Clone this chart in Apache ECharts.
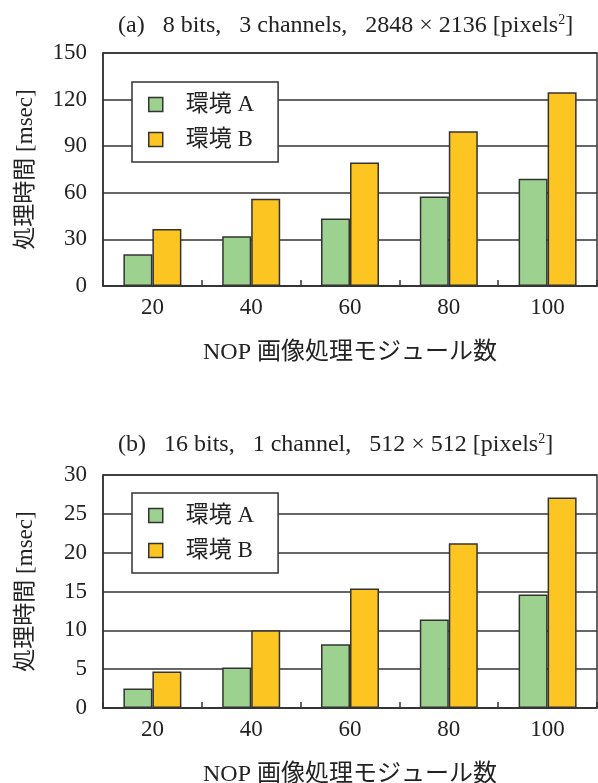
<!DOCTYPE html>
<html>
<head>
<meta charset="utf-8">
<script src="https://cdn.jsdelivr.net/npm/echarts@6/dist/echarts.min.js"></script>
<style>
    html, body { margin: 0; padding: 0; background: #fff; }
    #chart { width: 598px; height: 783px; }
</style>
</head>
<body>
<div id="chart"></div>
<script>
const categories = ['20', '40', '60', '80', '100'];
const seriesNames = ['環境 A', '環境 B'];
// (a) 8 bits, 3 channels
const timeA_top = [20.4, 32.1, 43.5, 57.6, 69.0];
const timeB_top = [36.7, 56.2, 79.5, 99.6, 124.8];
// (b) 16 bits, 1 channel
const timeA_bottom = [2.5, 5.2, 8.2, 11.4, 14.6];
const timeB_bottom = [4.7, 10.0, 15.4, 21.2, 27.1];

const colorList = ['#9dd18f', '#fdc521'];
const fontFamily = "'Liberation Serif', 'Noto Sans CJK JP', serif";
const lineColor = '#333';
const textColor = '#222';

const makeTitle = (text, top) => ({
    text: text,
    left: 118,
    top: top,
    padding: 0,
    textStyle: {
        fontFamily: fontFamily,
        fontSize: 24,
        fontWeight: 'normal',
        color: textColor,
        rich: {
            sup: { fontFamily: fontFamily, fontSize: 14, verticalAlign: 'top', padding: [0, 0, 11, 0], color: textColor }
        }
    }
});

const makeLegend = (top) => ({
    orient: 'vertical',
    left: 132,
    top: top,
    data: seriesNames,
    icon: 'rect',
    itemWidth: 14,
    itemHeight: 14,
    itemGap: 12,
    padding: [11, 24, 11, 16],
    backgroundColor: '#fff',
    borderColor: lineColor,
    borderWidth: 1.5,
    itemStyle: { borderColor: lineColor, borderWidth: 1.5 },
    textStyle: { fontFamily: fontFamily, fontSize: 23, lineHeight: 23, color: textColor, padding: [0, 0, 0, 18] }
});

const makeXAxis = (gridIndex) => ({
    type: 'category',
    gridIndex: gridIndex,
    data: categories,
    name: 'NOP 画像処理モジュール数',
    nameLocation: 'middle',
    nameGap: 55,
    nameTextStyle: { fontFamily: fontFamily, fontSize: 24, color: textColor },
    axisLine: { lineStyle: { color: lineColor, width: 1.5 } },
    axisTick: { show: true, inside: true, alignWithLabel: false, length: 6, lineStyle: { color: lineColor, width: 1.5 } },
    axisLabel: { fontFamily: fontFamily, fontSize: 23, color: textColor, margin: 10 }
});

const makeYAxis = (gridIndex, max, interval) => ({
    type: 'value',
    gridIndex: gridIndex,
    min: 0,
    max: max,
    interval: interval,
    name: '処理時間 [msec]',
    nameLocation: 'middle',
    nameGap: 66,
    nameTextStyle: { fontFamily: fontFamily, fontSize: 23, color: textColor },
    axisLine: { show: true, lineStyle: { color: lineColor, width: 1.5 } },
    axisTick: { show: false },
    axisLabel: { fontFamily: fontFamily, fontSize: 23, color: textColor, margin: 16 },
    splitLine: { show: true, lineStyle: { color: lineColor, width: 1.5 } }
});

const makeBar = (name, data, idx, axisIndex) => ({
    name: name,
    type: 'bar',
    xAxisIndex: axisIndex,
    yAxisIndex: axisIndex,
    data: data,
    barWidth: 29,
    barGap: '0%',
    itemStyle: { color: colorList[idx], borderColor: lineColor, borderWidth: 1.5 }
});

const myChart = echarts.init(document.getElementById('chart'), null, { renderer: 'canvas' });
const option = {
    animation: false,
    color: colorList,
    title: [
        makeTitle('(a)   8 bits,   3 channels,   2848 × 2136 [pixels{sup|2}]', 13),
        makeTitle('(b)   16 bits,   1 channel,   512 × 512 [pixels{sup|2}]', 432)
    ],
    legend: [makeLegend(82), makeLegend(493)],
    grid: [
        { left: 103, right: 1, top: 53, height: 233, show: true, borderColor: lineColor, borderWidth: 1.5, containLabel: false, outerBoundsMode: 'none' },
        { left: 103, right: 1, top: 475, height: 233, show: true, borderColor: lineColor, borderWidth: 1.5, containLabel: false, outerBoundsMode: 'none' }
    ],
    xAxis: [makeXAxis(0), makeXAxis(1)],
    yAxis: [makeYAxis(0, 150, 30), makeYAxis(1, 30, 5)],
    series: [
        makeBar(seriesNames[0], timeA_top, 0, 0),
        makeBar(seriesNames[1], timeB_top, 1, 0),
        makeBar(seriesNames[0], timeA_bottom, 0, 1),
        makeBar(seriesNames[1], timeB_bottom, 1, 1)
    ]
};
myChart.setOption(option);
</script>
</body>
</html>
